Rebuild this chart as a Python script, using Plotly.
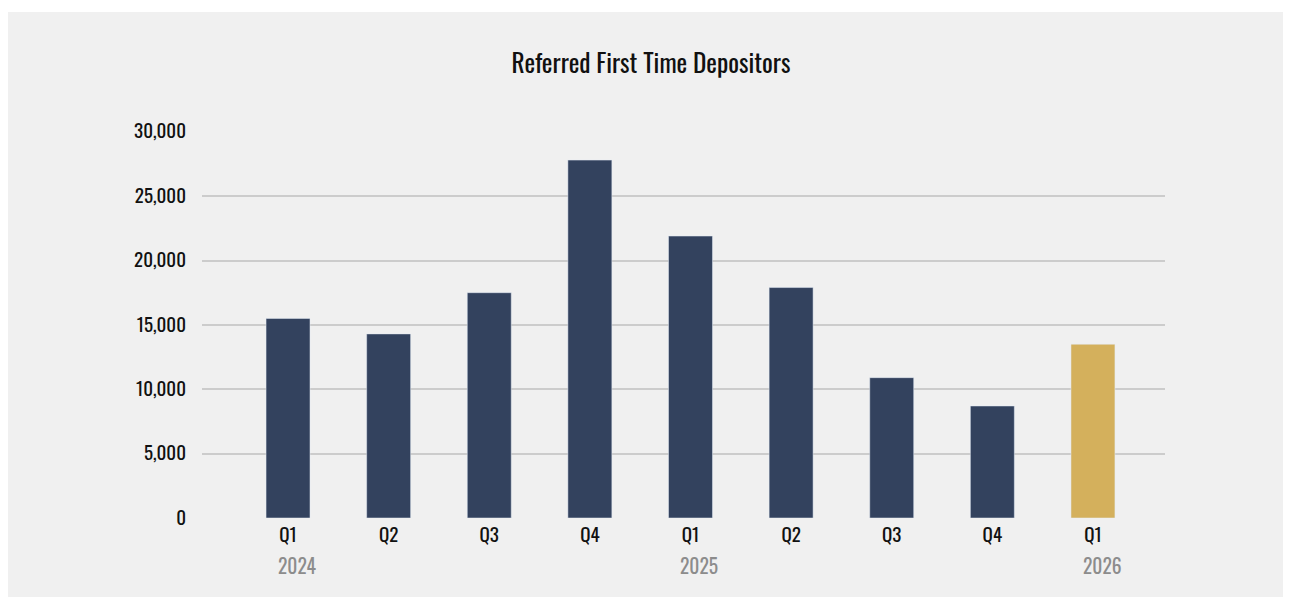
import plotly.graph_objects as go

quarters = ["Q1", "Q2", "Q3", "Q4", "Q1", "Q2", "Q3", "Q4", "Q1"]
years = ["2024", "", "", "", "2025", "", "", "", "2026"]
values = [15500, 14300, 17500, 27800, 21900, 17900, 10900, 8700, 13500]
colors = ["#33425e"] * 8 + ["#d4b05c"]
y_ticks = [0, 5000, 10000, 15000, 20000, 25000, 30000]

FONT = "Oswald, 'Roboto Condensed', 'Liberation Sans Narrow', 'DejaVu Sans Condensed', sans-serif"

W, H = 1291, 589
L, R, T, B = 194, 134, 123, 79
pw, ph = W - L - R, H - T - B

xs = list(range(len(values)))
fig = go.Figure(go.Bar(x=xs, y=values, marker_color=colors, width=0.437,
                       hoverinfo="skip"))

annotations = []
for i, yr in enumerate(years):
    if yr:
        annotations.append(dict(x=i, y=0, xref="x", yref="paper", yshift=-31,
                                text=yr, showarrow=False, xanchor="left", yanchor="top",
                                xshift=-12, font=dict(family=FONT, size=19.5, color="#8c8c8c")))

def px_y(p):
    return (H - B - p) / ph

shapes = [
    dict(type="rect", xref="paper", yref="paper", x0=-L / pw, x1=(W - L) / pw,
         y0=px_y(4), y1=px_y(0), fillcolor="white", line_width=0, layer="below"),
]

fig.update_layout(
    width=W, height=H,
    margin=dict(l=L, r=R, t=T, b=B),
    paper_bgcolor="#f0f0f0", plot_bgcolor="#f0f0f0",
    title=dict(text="Referred First Time Depositors", x=643 / W, xanchor="center",
               y=1 - 56 / H, yanchor="middle",
               font=dict(family=FONT, size=25.3, color="#111111")),
    font=dict(family=FONT, size=19, color="#111111"),
    showlegend=False,
    xaxis=dict(tickmode="array", tickvals=xs, ticktext=quarters,
               range=[-0.855, 8.716], showgrid=False, zeroline=False,
               ticks="", ticklabelstandoff=4,
               tickfont=dict(family=FONT, size=19, color="#111111")),
    yaxis=dict(range=[0, 30060], tickvals=y_ticks, tickformat=",d",
               showgrid=True, gridcolor="#cccccc", gridwidth=2,
               zeroline=False, ticks="", ticklabelstandoff=15,
               tickfont=dict(family=FONT, size=19, color="#111111")),
    annotations=annotations,
    shapes=shapes,
)

fig.write_html("out.html")
